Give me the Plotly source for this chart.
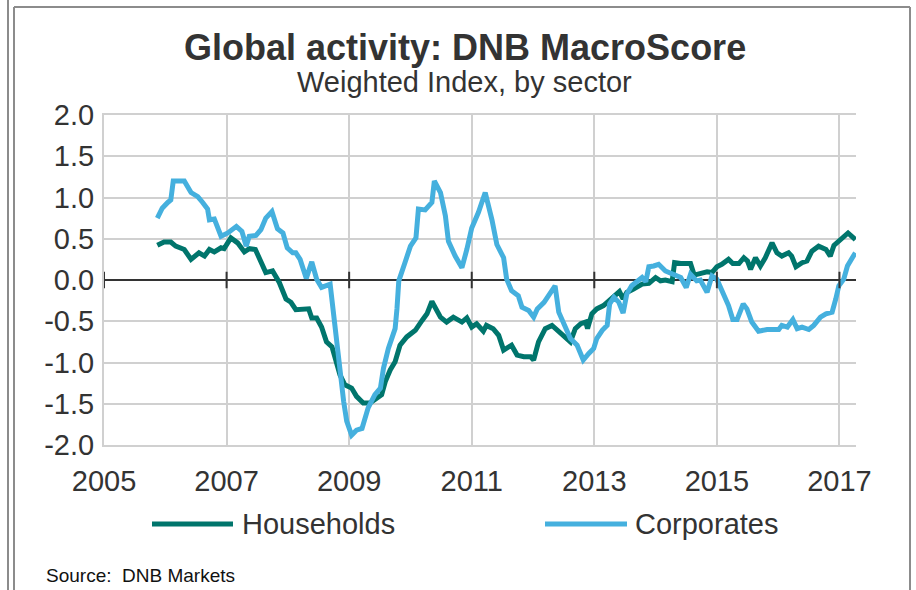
import plotly.graph_objects as go

# ---------------- data ----------------
households_x = [2005.87, 2005.98, 2006.09, 2006.17, 2006.31, 2006.42, 2006.55, 2006.64, 2006.72, 2006.80,
                2006.91, 2006.96, 2007.07, 2007.18, 2007.29, 2007.37, 2007.47, 2007.56, 2007.64, 2007.75,
                2007.86, 2007.97, 2008.05, 2008.13, 2008.27, 2008.34, 2008.39, 2008.47, 2008.55, 2008.63,
                2008.72, 2008.80, 2008.85, 2008.93, 2009.04, 2009.12, 2009.23, 2009.34, 2009.45, 2009.53,
                2009.59, 2009.67, 2009.75, 2009.83, 2009.94, 2010.08, 2010.19, 2010.27, 2010.35, 2010.49,
                2010.59, 2010.70, 2010.84, 2010.92, 2011.00, 2011.08, 2011.19, 2011.24, 2011.35, 2011.44,
                2011.52, 2011.65, 2011.74, 2011.85, 2011.96, 2012.01, 2012.09, 2012.20, 2012.31, 2012.42,
                2012.53, 2012.61, 2012.69, 2012.78, 2012.86, 2012.89, 2012.96, 2013.04, 2013.15, 2013.26,
                2013.34, 2013.41, 2013.47, 2013.53, 2013.64, 2013.78, 2013.89, 2014.00, 2014.08, 2014.16,
                2014.27, 2014.31, 2014.41, 2014.57, 2014.63, 2014.73, 2014.84, 2014.92, 2015.00, 2015.08,
                2015.19, 2015.26, 2015.36, 2015.44, 2015.50, 2015.55, 2015.63, 2015.71, 2015.79, 2015.90,
                2015.98, 2016.06, 2016.17, 2016.22, 2016.29, 2016.39, 2016.47, 2016.55, 2016.66, 2016.78,
                2016.85, 2016.91, 2017.02, 2017.14, 2017.26]
households_y = [0.42, 0.46, 0.46, 0.41, 0.37, 0.25, 0.33, 0.29, 0.37, 0.34,
                0.39, 0.38, 0.51, 0.45, 0.34, 0.38, 0.37, 0.23, 0.09, 0.11,
                -0.03, -0.23, -0.27, -0.36, -0.35, -0.35, -0.46, -0.46, -0.57, -0.75,
                -0.81, -1.03, -1.15, -1.27, -1.31, -1.41, -1.49, -1.49, -1.43, -1.39,
                -1.23, -1.09, -0.99, -0.79, -0.69, -0.61, -0.49, -0.41, -0.26, -0.45,
                -0.51, -0.45, -0.51, -0.46, -0.57, -0.53, -0.62, -0.55, -0.59, -0.67,
                -0.85, -0.79, -0.91, -0.93, -0.93, -0.97, -0.75, -0.59, -0.55, -0.63,
                -0.71, -0.75, -0.59, -0.53, -0.51, -0.59, -0.41, -0.35, -0.31, -0.24,
                -0.20, -0.14, -0.23, -0.15, -0.11, -0.05, -0.04, 0.03, -0.01, 0.00,
                -0.02, 0.21, 0.20, 0.20, 0.06, 0.08, 0.10, 0.09, 0.16, 0.19,
                0.25, 0.20, 0.20, 0.27, 0.23, 0.13, 0.27, 0.17, 0.27, 0.45,
                0.33, 0.29, 0.33, 0.29, 0.16, 0.21, 0.23, 0.35, 0.41, 0.37,
                0.29, 0.42, 0.49, 0.57, 0.49]

corporates_x = [2005.87, 2005.95, 2006.04, 2006.09, 2006.13, 2006.31, 2006.42, 2006.53, 2006.61, 2006.69,
                2006.72, 2006.80, 2006.91, 2007.02, 2007.16, 2007.25, 2007.32, 2007.37, 2007.48, 2007.56,
                2007.64, 2007.74, 2007.83, 2007.92, 2007.99, 2008.08, 2008.13, 2008.20, 2008.30, 2008.39,
                2008.47, 2008.55, 2008.69, 2008.80, 2008.85, 2008.91, 2008.96, 2009.04, 2009.12, 2009.21,
                2009.31, 2009.42, 2009.51, 2009.56, 2009.64, 2009.75, 2009.78, 2009.81, 2009.91, 2010.00,
                2010.09, 2010.13, 2010.24, 2010.35, 2010.39, 2010.49, 2010.57, 2010.62, 2010.73, 2010.84,
                2010.92, 2011.00, 2011.11, 2011.22, 2011.33, 2011.41, 2011.52, 2011.57, 2011.65, 2011.76,
                2011.82, 2011.93, 2012.01, 2012.07, 2012.18, 2012.28, 2012.36, 2012.42, 2012.53, 2012.61,
                2012.72, 2012.82, 2012.91, 2012.99, 2013.04, 2013.13, 2013.21, 2013.25, 2013.32, 2013.40,
                2013.47, 2013.53, 2013.61, 2013.72, 2013.78, 2013.84, 2013.89, 2013.97, 2014.05, 2014.16,
                2014.27, 2014.41, 2014.50, 2014.57, 2014.67, 2014.73, 2014.84, 2014.92, 2015.00, 2015.08,
                2015.14, 2015.19, 2015.26, 2015.33, 2015.43, 2015.49, 2015.57, 2015.68, 2015.82, 2016.01,
                2016.06, 2016.15, 2016.24, 2016.31, 2016.39, 2016.50, 2016.58, 2016.69, 2016.78, 2016.88,
                2016.94, 2016.99, 2017.07, 2017.13, 2017.21, 2017.26]
corporates_y = [0.75, 0.87, 0.94, 0.97, 1.20, 1.20, 1.06, 1.01, 0.94, 0.86,
                0.73, 0.74, 0.53, 0.57, 0.65, 0.59, 0.41, 0.53, 0.54, 0.61,
                0.75, 0.83, 0.62, 0.57, 0.39, 0.33, 0.33, 0.25, 0.02, 0.22,
                0.01, -0.09, -0.05, -0.75, -1.15, -1.47, -1.71, -1.88, -1.82, -1.80,
                -1.55, -1.39, -1.31, -1.07, -0.83, -0.59, -0.35, -0.01, 0.21, 0.41,
                0.51, 0.86, 0.85, 0.94, 1.20, 1.06, 0.78, 0.47, 0.29, 0.15,
                0.37, 0.63, 0.82, 1.06, 0.73, 0.43, 0.27, 0.01, -0.13, -0.19,
                -0.33, -0.37, -0.45, -0.35, -0.27, -0.15, -0.07, -0.39, -0.57, -0.71,
                -0.79, -0.97, -0.89, -0.83, -0.71, -0.61, -0.55, -0.29, -0.21, -0.27,
                -0.40, -0.17, -0.07, 0.00, 0.03, -0.02, 0.16, 0.17, 0.19, 0.11,
                0.07, 0.03, -0.09, 0.07, -0.01, 0.00, -0.15, 0.05, 0.01, -0.13,
                -0.25, -0.31, -0.48, -0.48, -0.29, -0.35, -0.51, -0.62, -0.60, -0.60,
                -0.55, -0.57, -0.48, -0.59, -0.57, -0.60, -0.55, -0.45, -0.41, -0.39,
                -0.23, -0.07, 0.01, 0.17, 0.27, 0.33]

x_tick_vals = [2005, 2007, 2009, 2011, 2013, 2015, 2017]
x_tick_text = ["2005", "2007", "2009", "2011", "2013", "2015", "2017"]
y_tick_vals = [2.0, 1.5, 1.0, 0.5, 0.0, -0.5, -1.0, -1.5, -2.0]
y_tick_text = ["2.0", "1.5", "1.0", "0.5", "0.0", "-0.5", "-1.0", "-1.5", "-2.0"]

series_names = ["Households", "Corporates"]
series_colors = ["#00756C", "#45B0DE"]

title_text = "Global activity: DNB MacroScore"
subtitle_text = "Weighted Index, by sector"
source_text = "Source:\u00a0 DNB Markets"

# ---------------- layout geometry ----------------
W, H = 916, 590
L, R, T, B = 104, 60, 115, 145
PW, PH = W - L - R, H - T - B
FONT = "Liberation Sans, Arial, sans-serif"
TXT = "#333333"
GRID = "#D0D0D0"


def px(xp):
    return (xp - L) / PW


def py(yp):
    return (H - B - yp) / PH


fig = go.Figure()
for name, xs, ys, col in [(series_names[0], households_x, households_y, series_colors[0]),
                          (series_names[1], corporates_x, corporates_y, series_colors[1])]:
    fig.add_trace(go.Scatter(x=xs, y=ys, mode="lines", name=name,
                             line=dict(color=col, width=5), showlegend=False))

shapes = []
# tick marks across the zero line
for tv in x_tick_vals:
    shapes.append(dict(type="line", xref="x", yref="y", x0=tv, x1=tv, y0=-0.1, y1=0.1,
                       line=dict(color="#333333", width=2)))

# manual legend
legend_items = [(series_names[0], series_colors[0], 152, 233, 240),
                (series_names[1], series_colors[1], 545, 627, 633)]
annotations = []
for name, col, x0, x1, xt in legend_items:
    shapes.append(dict(type="line", xref="paper", yref="paper", x0=px(x0), x1=px(x1),
                       y0=py(524), y1=py(524), line=dict(color=col, width=5)))
    annotations.append(dict(text=name, xref="paper", yref="paper", x=px(xt), y=py(524),
                            xanchor="left", yanchor="middle", showarrow=False,
                            font=dict(family=FONT, size=29, color=TXT)))

# outer frame
frame = "#8C8C8C"
shapes += [
    dict(type="line", xref="paper", yref="paper", x0=px(8), x1=px(8), y0=py(0), y1=py(590),
         line=dict(color=frame, width=2)),
    dict(type="line", xref="paper", yref="paper", x0=px(14), x1=px(14), y0=py(7), y1=py(590),
         line=dict(color=frame, width=2)),
    dict(type="line", xref="paper", yref="paper", x0=px(14), x1=px(910), y0=py(7), y1=py(7),
         line=dict(color=frame, width=2)),
    dict(type="line", xref="paper", yref="paper", x0=px(910), x1=px(910), y0=py(7), y1=py(590),
         line=dict(color=frame, width=2)),
]

annotations += [
    dict(text="<b>" + title_text + "</b>", xref="paper", yref="paper", x=px(465), y=py(48),
         xanchor="center", yanchor="middle", showarrow=False,
         font=dict(family=FONT, size=36, color=TXT)),
    dict(text=subtitle_text, xref="paper", yref="paper", x=px(464), y=py(82),
         xanchor="center", yanchor="middle", showarrow=False,
         font=dict(family=FONT, size=29, color=TXT)),
    dict(text=source_text, xref="paper", yref="paper", x=px(44), y=py(575),
         xanchor="left", yanchor="middle", showarrow=False,
         font=dict(family=FONT, size=19, color="#111111")),
]

fig.update_layout(
    width=W, height=H,
    margin=dict(l=L, r=R, t=T, b=B, pad=0),
    paper_bgcolor="white", plot_bgcolor="white",
    font=dict(family=FONT, color=TXT),
    shapes=shapes, annotations=annotations,
    showlegend=False,
)
fig.update_xaxes(range=[2005, 2017.27], tickvals=x_tick_vals, ticktext=x_tick_text,
                 showgrid=True, gridcolor=GRID, gridwidth=2,
                 showline=True, linecolor=GRID, linewidth=2, mirror=True,
                 zeroline=False, ticks="", ticklabelstandoff=9,
                 tickfont=dict(family=FONT, size=29, color=TXT))
fig.update_yaxes(range=[-2.0, 2.0], tickvals=y_tick_vals, ticktext=y_tick_text,
                 showgrid=True, gridcolor=GRID, gridwidth=2,
                 showline=True, linecolor=GRID, linewidth=2, mirror=False,
                 zeroline=True, zerolinecolor="#333333", zerolinewidth=2,
                 ticks="", ticklabelstandoff=2,
                 tickfont=dict(family=FONT, size=29, color=TXT))

fig.write_html("out.html", config={"displayModeBar": False},
               post_script="document.body.style.margin='0';document.body.style.overflow='hidden';")
